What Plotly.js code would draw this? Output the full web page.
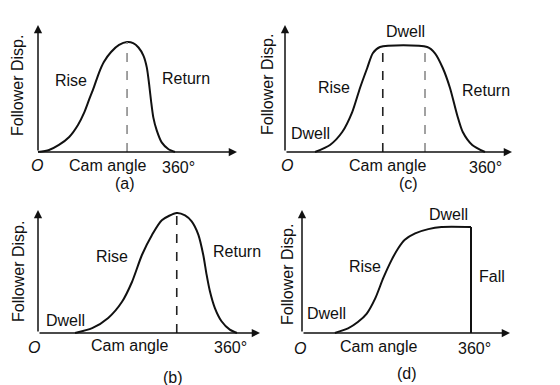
<!DOCTYPE html>
<html><head><meta charset="utf-8">
<script src="https://cdn.plot.ly/plotly-3.0.1.min.js"></script>
<style>html,body{margin:0;padding:0;background:#fff}</style>
</head><body><div id="chart" style="width:560px;height:385px"></div>
<script>
// ---- data (cam angle in degrees, follower displacement normalised to lift = 1) ----
const angleA = [0,29,55,82,105,121,134,147,160,173,192,213,234,250,264,277,286,292,297,303,312,325,343,360];
const dispA  = [0,0.018,0.064,0.136,0.245,0.355,0.473,0.59,0.718,0.818,0.909,0.973,1,0.99,0.95,0.876,0.767,0.616,0.466,0.315,0.196,0.087,0.025,0];
const peakA  = [234];

const angleB = [67,98,127,152,170,188,206,224,251,266,278,290,299,305,311,320,332,347,360];
const dispB  = [0,0.04,0.125,0.26,0.425,0.65,0.815,0.94,1,0.98,0.93,0.82,0.65,0.486,0.348,0.208,0.098,0.028,0];
const peakB  = [251];

const angleC = [54,81,103,121,135,148,158,171,256,270,284,297,310,320,337,360];
const dispC  = [0,0.067,0.19,0.38,0.61,0.8,0.94,1,1,0.94,0.8,0.61,0.35,0.19,0.067,0];
const dwellEdgesC = [176,252];

const angleD = [70,98,119,138,156,173,191,205,219,241,269,297,360];
const dispD  = [0,0.043,0.103,0.183,0.326,0.517,0.69,0.8,0.88,0.94,0.98,1,1];
const fallAngleD = [360,360];
const fallDispD  = [1,0];

const originLabel = '<i>O</i>';
const xAxisLabel = 'Cam angle';
const endLabel = '360°';
const yAxisLabel = 'Follower Disp.';
const panelTags = ['(a)','(b)','(c)','(d)'];

// ---- layout geometry (pixels) ----
const W = 560, H = 385;
const geo = [
  {ox:38,  oy:152, tipX:237, tipY:25,  px360:175, pyTop:42},
  {ox:38,  oy:333, tipX:260, tipY:210, px360:237, pyTop:213},
  {ox:285, oy:152, tipX:512, tipY:25,  px360:485, pyTop:47},
  {ox:302, oy:333, tipX:510, tipY:210, px360:471, pyTop:227}
];
const PAD = 4;
const font = {family:'"Liberation Sans", Arial, Helvetica, sans-serif', size:16, color:'#111'};
const layout = {
  width:W, height:H, margin:{l:0,r:0,t:0,b:0,pad:0},
  paper_bgcolor:'#fff', plot_bgcolor:'rgba(0,0,0,0)',
  showlegend:false, font:font, annotations:[], shapes:[]
};
const ax = (i)=> i===0 ? '' : String(i+1);
geo.forEach((g,i)=>{
  const dpx = 360/(g.px360-g.ox), dpy = 1/(g.oy-g.pyTop);
  g.xmax = (g.tipX-g.ox)*dpx; g.ymax = (g.oy-g.tipY)*dpy;
  const common = {showgrid:false, zeroline:false, showline:false, showticklabels:false, ticks:'', fixedrange:true};
  layout['xaxis'+ax(i)] = Object.assign({}, common, {
    domain:[(g.ox-PAD)/W, g.tipX/W], range:[-PAD*dpx, g.xmax], anchor:'y'+ax(i)});
  layout['yaxis'+ax(i)] = Object.assign({}, common, {
    domain:[1-(g.oy+PAD)/H, 1-g.tipY/H], range:[-PAD*dpy, g.ymax], anchor:'x'+ax(i)});
  const xr='x'+ax(i), yr='y'+ax(i);
  layout.annotations.push({xref:xr, yref:yr, axref:xr, ayref:yr, x:g.xmax, y:0, ax:0, ay:0,
    text:'', showarrow:true, arrowhead:2, arrowsize:1.1, arrowwidth:1.5, arrowcolor:'#111', standoff:0});
  layout.annotations.push({xref:xr, yref:yr, axref:xr, ayref:yr, x:0, y:g.ymax, ax:0, ay:0,
    text:'', showarrow:true, arrowhead:2, arrowsize:1.1, arrowwidth:1.5, arrowcolor:'#111', standoff:0});
});

function label(text, px, py, extra){
  layout.annotations.push(Object.assign({xref:'paper', yref:'paper', x:px/W, y:1-py/H,
    xanchor:'center', yanchor:'middle', text:text, showarrow:false, font:font}, extra||{}));
}
function vdash(i, x, color){
  layout.shapes.push({type:'line', xref:'x'+ax(i), yref:'y'+ax(i), x0:x, x1:x, y0:0, y1:1,
    line:{color:color, width:1.6, dash:'dash'}});
}

vdash(0, peakA[0], '#8a8a8a');
vdash(1, peakB[0], '#222');
vdash(2, dwellEdgesC[0], '#222');
vdash(2, dwellEdgesC[1], '#8a8a8a');

// (a)
label(yAxisLabel, 18, 86, {textangle:-90});
label('Rise', 71, 80); label('Return', 186, 78);
label(originLabel, 37, 166); label(xAxisLabel, 107, 165); label(endLabel, 178, 167); label(panelTags[0], 125, 183);
// (b)
label(yAxisLabel, 18, 272, {textangle:-90});
label('Rise', 112, 256); label('Return', 237, 251); label('Dwell', 65, 320);
label(originLabel, 34, 347); label(xAxisLabel, 129, 345); label(endLabel, 230, 347); label(panelTags[1], 173, 377);
// (c)
label(yAxisLabel, 268, 85, {textangle:-90});
label('Dwell', 405, 31); label('Rise', 334, 88); label('Return', 486, 91); label('Dwell', 310, 133);
label(originLabel, 287, 166); label(xAxisLabel, 387, 165); label(endLabel, 485, 167); label(panelTags[2], 408, 184);
// (d)
label(yAxisLabel, 287, 275, {textangle:-90});
label('Dwell', 448, 214); label('Rise', 365, 266); label('Fall', 492, 276); label('Dwell', 326, 313);
label(originLabel, 300, 348); label(xAxisLabel, 378, 346); label(endLabel, 474, 348); label(panelTags[3], 407, 373);

const lineStyle = {color:'#111', width:2, shape:'spline', smoothing:0.7};
const traces = [
  {x:angleA, y:dispA, xaxis:'x',  yaxis:'y',  mode:'lines', line:lineStyle, hoverinfo:'skip'},
  {x:angleB, y:dispB, xaxis:'x2', yaxis:'y2', mode:'lines', line:lineStyle, hoverinfo:'skip'},
  {x:angleC, y:dispC, xaxis:'x3', yaxis:'y3', mode:'lines', line:lineStyle, hoverinfo:'skip'},
  {x:angleD, y:dispD, xaxis:'x4', yaxis:'y4', mode:'lines', line:lineStyle, hoverinfo:'skip'},
  {x:fallAngleD, y:fallDispD, xaxis:'x4', yaxis:'y4', mode:'lines', line:{color:'#111', width:2}, hoverinfo:'skip'}
];
Plotly.newPlot('chart', traces, layout, {staticPlot:true, displayModeBar:false});
</script></body></html>
